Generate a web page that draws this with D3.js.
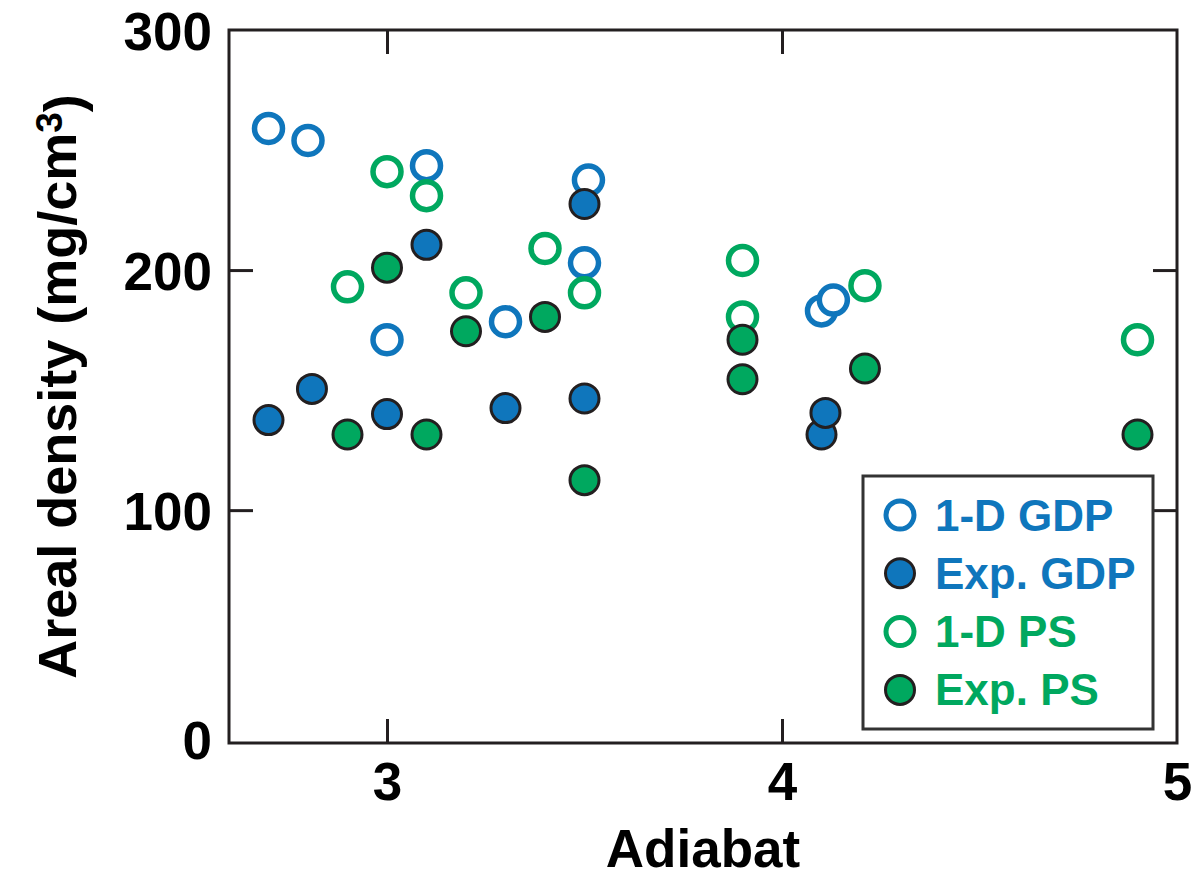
<!DOCTYPE html>
<html>
<head>
<meta charset="utf-8">
<script src="https://cdn.jsdelivr.net/npm/d3@7"></script>
<style>
  html, body { margin: 0; padding: 0; background: #fff; }
  svg { display: block; }
  text { font-family: "Liberation Sans", Arial, Helvetica, sans-serif; font-weight: bold; }
</style>
</head>
<body>
<svg id="chart" width="1196" height="877"></svg>
<script>
// ---- Data ----
const gdp1DX = [2.70, 2.80, 3.10, 3.51, 3.50, 3.00, 3.30, 4.10, 4.13];
const gdp1DY = [259, 254, 243.5, 237.5, 203, 171, 178.5, 183, 187.5];

const gdpExpX = [2.70, 2.81, 3.10, 3.50, 3.00, 3.30, 3.50, 4.10, 4.11];
const gdpExpY = [137.5, 150.5, 210.5, 227.5, 140, 142.5, 146.5, 131.5, 140.5];

const ps1DX = [3.00, 3.10, 2.90, 3.40, 3.20, 3.50, 3.90, 3.90, 4.21, 4.90];
const ps1DY = [241, 231, 193, 209, 190.5, 190.5, 204, 180.5, 193.5, 171];

const psExpX = [3.00, 2.90, 3.10, 3.20, 3.40, 3.50, 3.90, 3.90, 4.21, 4.90];
const psExpY = [201, 131.5, 131.5, 174.5, 180.5, 112.5, 171, 154.5, 159, 131.5];

const seriesNames = ["1-D GDP", "Exp. GDP", "1-D PS", "Exp. PS"];
const xTickValues = [3, 4, 5];
const yTickValues = [100, 200, 300];
const yAxisMinLabel = "0";
const xDomain = [2.6, 5];
const yDomain = [3, 300];
const xTitle = "Adiabat";

// ---- Styles ----
const BLUE = "#0f76bc";
const GREEN = "#00a85f";
const DARK = "#231f20";

const svg = d3.select("#chart");
const margin = { left: 229, top: 30, right: 1196 - 1177, bottom: 877 - 743 };
const W = 1196 - margin.left - margin.right;
const H = 877 - margin.top - margin.bottom;

const x = d3.scaleLinear().domain(xDomain).range([0, W]);
const y = d3.scaleLinear().domain(yDomain).range([H, 0]);

const g = svg.append("g").attr("transform", `translate(${margin.left},${margin.top})`);

// Axes (inward ticks on all sides)
const TICK = 24;
const axL = g.append("g").call(d3.axisLeft(y).tickValues(yTickValues).tickSize(-TICK).tickPadding(17).tickFormat(d3.format("d")));
const axB = g.append("g").attr("transform", `translate(0,${H})`).call(d3.axisBottom(x).tickValues(xTickValues).tickSize(-TICK).tickPadding(19).tickFormat(d3.format("d")));
const axR = g.append("g").attr("transform", `translate(${W},0)`).call(d3.axisRight(y).tickValues(yTickValues).tickSize(-TICK).tickFormat(""));
const axT = g.append("g").call(d3.axisTop(x).tickValues(xTickValues).tickSize(-TICK).tickFormat(""));

[axL, axB, axR, axT].forEach(a => {
  a.select(".domain").remove();
  a.selectAll(".tick line").attr("stroke", DARK).attr("stroke-width", 3);
  a.selectAll(".tick text").attr("fill", "#000").style("font-size", "53px")
    .style("font-family", '"Liberation Sans", Arial, sans-serif').style("font-weight", "bold");
});
axL.selectAll(".tick text").attr("dy", "0.36em");
axB.selectAll(".tick text").attr("dy", "0.72em");
// hide corner ticks
axL.selectAll(".tick").filter(d => d === 300).select("line").remove();
axR.selectAll(".tick").filter(d => d === 300).select("line").remove();
axT.selectAll(".tick").filter(d => d === 5).select("line").remove();
axB.selectAll(".tick").filter(d => d === 5).select("line").remove();

// minimum label at axis bottom
g.append("text").attr("x", -17).attr("y", y(yDomain[0]) - 3).attr("dy", "0.36em")
  .attr("text-anchor", "end").style("font-size", "53px").attr("fill", "#000").text(yAxisMinLabel);

// Frame
g.append("rect").attr("x", 0).attr("y", 0).attr("width", W).attr("height", H)
  .attr("fill", "none").attr("stroke", DARK).attr("stroke-width", 3);

// Axis titles
svg.append("text").attr("x", margin.left + W / 2).attr("y", 867).attr("text-anchor", "middle")
  .style("font-size", "53px").attr("fill", "#000").text(xTitle);

const yt = svg.append("text").attr("transform", `translate(76,${margin.top + H / 2}) rotate(-90)`)
  .attr("text-anchor", "middle").style("font-size", "54px").attr("fill", "#000");
yt.append("tspan").text("Areal density (mg/cm");
yt.append("tspan").attr("dy", "-0.38em").style("font-size", "37px").text("3");
yt.append("tspan").attr("dy", "0.38em").text(")");

// Points
const R = 14.5;
function openPts(xs, ys, color) {
  g.append("g").selectAll("circle").data(xs.map((d, i) => [d, ys[i]])).join("circle")
    .attr("cx", d => x(d[0])).attr("cy", d => y(d[1])).attr("r", R - 0.5)
    .attr("fill", "#fff").attr("stroke", color).attr("stroke-width", 5.5);
}
function filledPts(xs, ys, color) {
  g.append("g").selectAll("circle").data(xs.map((d, i) => [d, ys[i]])).join("circle")
    .attr("cx", d => x(d[0])).attr("cy", d => y(d[1])).attr("r", R)
    .attr("fill", color).attr("stroke", DARK).attr("stroke-width", 3);
}
openPts(gdp1DX, gdp1DY, BLUE);
openPts(ps1DX, ps1DY, GREEN);
filledPts(gdpExpX, gdpExpY, BLUE);
filledPts(psExpX, psExpY, GREEN);

// Legend
const leg = svg.append("g");
leg.append("rect").attr("x", 863).attr("y", 476).attr("width", 290).attr("height", 253)
  .attr("fill", "#fff").attr("stroke", "#333").attr("stroke-width", 3);
const legItems = [
  { name: seriesNames[0], color: BLUE, filled: false },
  { name: seriesNames[1], color: BLUE, filled: true },
  { name: seriesNames[2], color: GREEN, filled: false },
  { name: seriesNames[3], color: GREEN, filled: true }
];
legItems.forEach((it, i) => {
  const cy = 515 + i * 58.3;
  const c = leg.append("circle").attr("cx", 900).attr("cy", cy);
  if (it.filled) c.attr("r", R).attr("fill", it.color).attr("stroke", DARK).attr("stroke-width", 3);
  else c.attr("r", R - 0.5).attr("fill", "#fff").attr("stroke", it.color).attr("stroke-width", 5);
  leg.append("text").attr("x", 935).attr("y", cy + 15.5).style("font-size", "44px")
    .attr("fill", it.color).text(it.name);
});
</script>
</body>
</html>
